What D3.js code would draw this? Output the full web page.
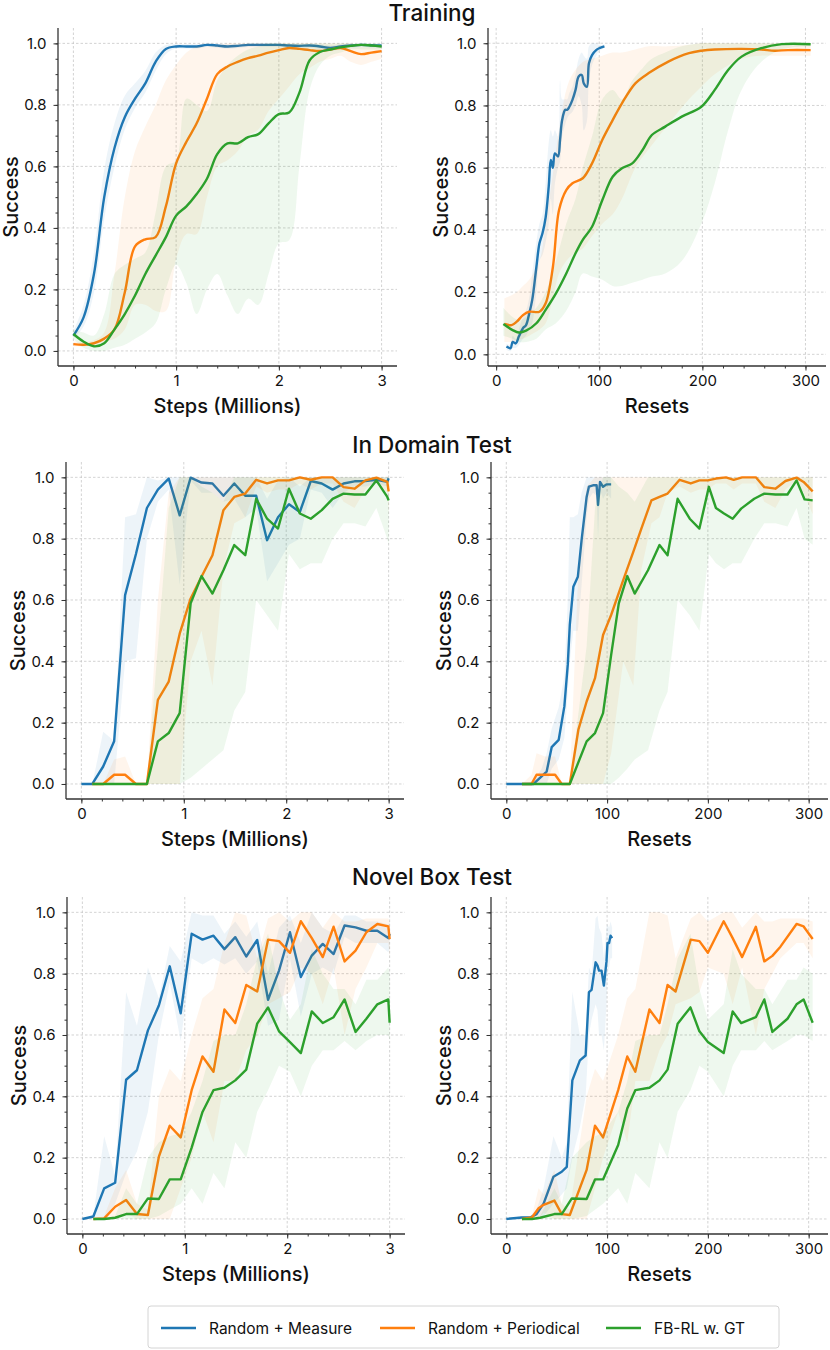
<!DOCTYPE html>
<html>
<head>
<meta charset="utf-8">
<script src="https://cdn.jsdelivr.net/npm/d3@7"></script>
<style>
  html, body { margin: 0; padding: 0; background: #fff; }
  svg { display: block; font-family: Inter, "Noto Sans", sans-serif; }
</style>
</head>
<body>
<svg id="chart" width="830" height="1350"></svg>
<script>
// ---------------- DATA ----------------
const seriesNames = ["Random + Measure", "Random + Periodical", "FB-RL w. GT"];
const seriesColors = ["#1f77b4", "#ff7f0e", "#2ca02c"];
const rowTitles = ["Training", "In Domain Test", "Novel Box Test"];
const stepsTicks = [0, 1, 2, 3];
const resetTicks = [0, 100, 200, 300];
const yTicks = [0, 0.2, 0.4, 0.6, 0.8, 1.0];

// Training vs steps (smoothed curves)
const trainStepsX = [0,0.1,0.2,0.3,0.4,0.5,0.6,0.7,0.8,0.9,1.0,1.1,1.2,1.3,1.4,1.5,1.6,1.7,1.8,1.9,2.0,2.1,2.2,2.3,2.4,2.5,2.6,2.7,2.8,2.9,3.0];
const trainStepsBlue   = [0.05,0.11,0.25,0.5,0.66,0.76,0.82,0.87,0.94,0.982,0.99,0.99,0.99,0.995,0.993,0.99,0.992,0.995,0.995,0.995,0.995,0.993,0.992,0.993,0.99,0.985,0.99,0.993,0.995,0.994,0.993];
const trainStepsBlueLo = [0.04,0.08,0.19,0.43,0.6,0.72,0.79,0.84,0.91,0.965,0.983,0.983,0.983,0.988,0.986,0.983,0.985,0.988,0.988,0.988,0.988,0.986,0.985,0.986,0.982,0.975,0.982,0.986,0.988,0.987,0.986];
const trainStepsBlueHi = [0.065,0.15,0.32,0.59,0.74,0.83,0.87,0.91,0.97,0.995,0.997,0.997,0.997,0.999,0.998,0.997,0.998,0.999,0.999,0.999,0.999,0.998,0.998,0.998,0.997,0.993,0.997,0.998,0.999,0.999,0.998];
const trainStepsOrange   = [0.022,0.02,0.025,0.04,0.07,0.19,0.34,0.363,0.37,0.47,0.61,0.68,0.74,0.82,0.9,0.925,0.94,0.952,0.96,0.97,0.978,0.985,0.982,0.978,0.975,0.98,0.985,0.975,0.965,0.97,0.975];
const trainStepsOrangeLo = [0.015,0.015,0.02,0.03,0.04,0.07,0.15,0.15,0.13,0.13,0.3,0.38,0.38,0.5,0.6,0.62,0.65,0.7,0.72,0.78,0.82,0.86,0.9,0.92,0.94,0.95,0.96,0.94,0.93,0.94,0.95];
const trainStepsOrangeHi = [0.03,0.03,0.035,0.06,0.25,0.5,0.65,0.73,0.8,0.88,0.93,0.97,0.99,0.99,0.995,1,1,1,1,1,1,1,1,1,1,1,1,1,0.99,0.99,0.99];
const trainStepsGreen   = [0.055,0.03,0.015,0.025,0.07,0.12,0.18,0.25,0.31,0.37,0.44,0.47,0.51,0.56,0.64,0.675,0.675,0.695,0.705,0.74,0.77,0.775,0.84,0.945,0.972,0.98,0.987,0.992,0.995,0.993,0.99];
const trainStepsGreenLo = [0.04,0.01,0.0,0.0,0.01,0.02,0.04,0.06,0.09,0.2,0.28,0.22,0.12,0.2,0.25,0.18,0.12,0.17,0.15,0.25,0.35,0.36,0.6,0.85,0.93,0.96,0.97,0.98,0.98,0.98,0.98];
const trainStepsGreenHi = [0.07,0.06,0.05,0.12,0.25,0.28,0.3,0.32,0.45,0.6,0.62,0.82,0.8,0.78,0.88,0.93,0.96,0.98,0.99,1,1,1,1,1,1,1,1,1,1,1,1];

// Training vs resets
const trainResetsBlueX  = [10,14,16,19,22,26,29,32,35,39,42,45,48,51,53,55,57,60,62,64,67,69,71,74,77,80,83,85,88,90,93,97,100,105];
const trainResetsBlue   = [0.025,0.02,0.04,0.035,0.057,0.084,0.094,0.13,0.175,0.28,0.357,0.39,0.44,0.54,0.625,0.6,0.646,0.636,0.69,0.753,0.786,0.786,0.796,0.818,0.85,0.893,0.898,0.871,0.86,0.936,0.962,0.978,0.984,0.99];
const trainResetsBlueLo = [0.015,0.01,0.02,0.02,0.03,0.05,0.06,0.08,0.1,0.2,0.3,0.32,0.36,0.42,0.5,0.45,0.55,0.6,0.62,0.7,0.74,0.76,0.77,0.78,0.8,0.83,0.8,0.72,0.75,0.88,0.93,0.96,0.975,0.985];
const trainResetsBlueHi = [0.035,0.03,0.06,0.05,0.08,0.12,0.14,0.18,0.26,0.36,0.42,0.45,0.55,0.68,0.72,0.7,0.72,0.7,0.88,0.82,0.82,0.82,0.84,0.86,0.9,0.95,0.97,0.96,0.95,0.99,1,1,0.995,0.995];
const trainResetsOrangeX  = [8,15,20,26,32,42,48,55,61,68,74,84,93,103,113,122,135,148,167,187,199,212,238,257,270,283,305];
const trainResetsOrange   = [0.0975,0.094,0.105,0.126,0.137,0.137,0.164,0.28,0.464,0.528,0.55,0.566,0.614,0.69,0.753,0.807,0.871,0.904,0.941,0.968,0.976,0.98,0.982,0.98,0.976,0.978,0.978];
const trainResetsOrangeLo = [0.04,0.04,0.045,0.05,0.06,0.08,0.1,0.18,0.26,0.3,0.32,0.34,0.38,0.42,0.45,0.5,0.6,0.66,0.74,0.82,0.86,0.9,0.95,0.96,0.96,0.96,0.96];
const trainResetsOrangeHi = [0.18,0.19,0.2,0.22,0.24,0.3,0.42,0.58,0.72,0.85,0.9,0.94,0.95,0.96,0.97,0.97,0.98,0.99,0.99,0.995,1,1,1,1,1,1,1];
const trainResetsGreenX  = [7,16,22,29,39,48,58,68,77,84,93,103,113,122,132,142,151,164,180,199,212,225,238,257,277,305];
const trainResetsGreen   = [0.0975,0.078,0.07,0.076,0.1,0.143,0.196,0.26,0.325,0.368,0.41,0.496,0.571,0.598,0.614,0.657,0.705,0.732,0.764,0.796,0.85,0.914,0.957,0.984,0.997,0.997];
const trainResetsGreenLo = [0.06,0.05,0.04,0.04,0.05,0.08,0.1,0.14,0.2,0.26,0.25,0.24,0.22,0.22,0.23,0.24,0.25,0.26,0.3,0.42,0.55,0.72,0.85,0.94,0.98,0.99];
const trainResetsGreenHi = [0.15,0.12,0.11,0.12,0.15,0.2,0.3,0.42,0.5,0.6,0.7,0.82,0.85,0.82,0.88,0.92,0.95,0.97,0.99,1,1,1,1,1,1,1];

// Evaluation step grid (millions)
const evalSteps = [0,0.107,0.213,0.32,0.427,0.533,0.64,0.747,0.853,0.96,1.067,1.173,1.28,1.387,1.493,1.6,1.707,1.813,1.92,2.027,2.133,2.24,2.347,2.453,2.56,2.667,2.773,2.88,2.987,3.0];
const evalStepsLate = [0.107,0.213,0.32,0.427,0.533,0.64,0.747,0.853,0.96,1.067,1.173,1.28,1.387,1.493,1.6,1.707,1.813,1.92,2.027,2.133,2.24,2.347,2.453,2.56,2.667,2.773,2.88,2.987,3.0];

// In Domain Test vs steps
const domStepsBlue   = [0,0,0.057,0.139,0.616,0.75,0.9,0.96,0.996,0.876,0.999,0.983,0.98,0.94,0.98,0.94,0.94,0.795,0.87,0.912,0.887,0.988,0.98,0.96,0.98,0.987,0.988,0.992,0.985,0.997];
const domStepsBlueLo = [0,0,0,0,0.4,0.41,0.8,0.92,0.96,0.65,0.99,0.95,0.95,0.92,0.93,0.87,0.9,0.66,0.72,0.78,0.8,0.96,0.95,0.9,0.95,0.97,0.97,0.98,0.97,0.99];
const domStepsBlueHi = [0,0,0.17,0.14,0.87,0.88,1,0.99,1,1,1,1,1,1,1,1,1,0.93,0.99,1,0.97,1,1,1,1,1,1,1,1,1];
const domStepsOrange   = [0,0,0.03,0.03,0,0,0.274,0.334,0.49,0.605,0.676,0.746,0.893,0.936,0.947,0.992,0.98,0.99,0.99,1.0,0.992,1,1,0.968,0.963,0.99,0.999,0.985,0.954];
const domStepsOrangeLo = [0,0,0,0,0,0,0,0,0,0.4,0.5,0.32,0.7,0.85,0.87,0.97,0.95,0.96,0.96,0.98,0.96,0.98,0.98,0.92,0.9,0.96,0.99,0.95,0.88];
const domStepsOrangeHi = [0,0,0.08,0.09,0,0,0.6,0.95,1,1,1,1,1,1,1,1,1,1,1,1,1,1,1,1,1,1,1,1,1];
const domStepsGreen   = [0,0,0,0,0,0,0.139,0.166,0.231,0.589,0.678,0.621,0.697,0.779,0.746,0.93,0.865,0.833,0.963,0.882,0.865,0.893,0.93,0.947,0.944,0.944,0.99,0.936,0.925];
const domStepsGreenLo = [0,0,0,0,0,0,0,0,0,0.02,0.05,0.08,0.11,0.24,0.3,0.6,0.55,0.5,0.75,0.7,0.72,0.72,0.8,0.85,0.85,0.84,0.9,0.8,0.78];
const domStepsGreenHi = [0,0,0,0,0,0,0.45,0.9,1,1,0.97,0.95,0.92,1,1,1,1,1,1,1,1,1,1,1,1,1,1,1,1];

// In Domain Test vs resets
const domResetsBlueX  = [0,15.5,27,35,40,45,52,57.6,61,63,66.5,71,74.7,79.7,82,86,89.6,91,93,96,99.4,104];
const domResetsBlue   = [0,0,0,0.025,0.04,0.12,0.144,0.253,0.39,0.52,0.643,0.676,0.795,0.936,0.97,0.974,0.974,0.91,0.985,0.969,0.977,0.977];
const domResetsBlueLo = [0,0,0,0,0,0.05,0.08,0.15,0.3,0.4,0.5,0.5,0.65,0.87,0.93,0.95,0.94,0.8,0.96,0.93,0.95,0.93];
const domResetsBlueHi = [0,0,0.01,0.05,0.1,0.18,0.25,0.35,0.6,0.87,0.87,0.88,0.95,1,1,1,1,1,1,1,1,1];
const domResetsOrangeX  = [15.5,25,30,38.5,48.4,55,63,71.5,79.7,88,96,104,116,126,134,144,152,160,172,183,191.6,200,208,218,225.6,234,247.6,256,267,277,288,295,304];
const domResetsOrange   = [0,0,0.03,0.03,0.03,0,0,0.177,0.269,0.345,0.486,0.551,0.665,0.757,0.833,0.925,0.936,0.947,0.992,0.98,0.99,0.99,0.996,1,0.992,1,1,0.968,0.963,0.988,0.999,0.985,0.954];
const domResetsOrangeLo = [0,0,0,0,0,0,0,0,0,0,0,0.1,0.4,0.32,0.7,0.85,0.87,0.95,0.97,0.95,0.96,0.96,0.98,0.98,0.96,0.98,0.98,0.92,0.9,0.96,0.99,0.95,0.88];
const domResetsOrangeHi = [0,0.03,0.1,0.09,0.09,0,0,0.7,0.97,1,1,1,1,1,1,1,1,1,1,1,1,1,1,1,1,1,1,1,1,1,1,1,1];
const domResetsGreenX  = [15.5,25,35,48,55,63,79.7,88,96,104,111.6,120,127.4,140.6,152,160,170,182,191.6,201,208,216,224.6,233,246,256,267,279,288,296,304];
const domResetsGreen   = [0,0,0,0,0,0,0.139,0.166,0.231,0.42,0.589,0.678,0.621,0.697,0.779,0.746,0.93,0.865,0.833,0.969,0.9,0.882,0.865,0.898,0.93,0.947,0.944,0.944,0.99,0.928,0.925];
const domResetsGreenLo = [0,0,0,0,0,0,0,0,0,0,0.02,0.05,0.08,0.11,0.24,0.3,0.6,0.55,0.5,0.75,0.72,0.7,0.72,0.72,0.8,0.85,0.85,0.84,0.9,0.8,0.78];
const domResetsGreenHi = [0,0,0,0,0,0,0.45,0.9,1,1,0.97,0.95,0.92,1,1,1,1,1,1,1,1,1,1,1,1,1,1,1,1,1,1];

// Novel Box Test vs steps
const novStepsBlue   = [0,0.008,0.1,0.118,0.454,0.485,0.615,0.696,0.824,0.671,0.93,0.911,0.924,0.88,0.919,0.856,0.91,0.715,0.81,0.935,0.789,0.859,0.897,0.864,0.957,0.951,0.94,0.94,0.916,0.93];
const novStepsBlueLo = [0,0,0,0.05,0.15,0.22,0.35,0.6,0.77,0.58,0.85,0.83,0.85,0.83,0.85,0.8,0.84,0.63,0.65,0.85,0.66,0.8,0.82,0.8,0.92,0.9,0.9,0.9,0.87,0.88];
const novStepsBlueHi = [0,0.01,0.27,0.14,0.74,0.63,0.82,0.72,0.89,0.84,1,0.99,0.99,0.93,0.97,0.92,0.97,0.8,0.95,0.99,0.9,1,0.95,0.93,0.99,0.99,0.97,0.97,0.96,0.97];
const novStepsOrange   = [0,0.002,0.04,0.062,0.016,0.013,0.203,0.304,0.266,0.42,0.53,0.48,0.683,0.639,0.763,0.742,0.911,0.906,0.868,0.971,0.916,0.854,0.953,0.84,0.875,0.935,0.962,0.954,0.913];
const novStepsOrangeLo = [0,0,0,0.02,0,0,0,0,0.1,0.2,0.35,0.25,0.45,0.45,0.55,0.6,0.7,0.72,0.74,0.82,0.8,0.7,0.82,0.6,0.75,0.82,0.9,0.9,0.85];
const novStepsOrangeHi = [0,0.01,0.1,0.16,0.05,0.03,0.4,0.49,0.45,0.6,0.72,0.75,0.9,1,0.99,0.85,0.98,1,0.97,1,1,0.95,1,0.97,0.97,0.98,0.98,0.98,0.97];
const novStepsGreen   = [0,0,0.004,0.016,0.016,0.067,0.065,0.129,0.129,0.233,0.349,0.42,0.428,0.452,0.487,0.637,0.69,0.612,0.577,0.541,0.677,0.639,0.658,0.716,0.61,0.653,0.7,0.716,0.64];
const novStepsGreenLo = [0,0,0,0,0,0,0.01,0.03,0.05,0.1,0.05,0.15,0.1,0.25,0.2,0.35,0.42,0.5,0.48,0.4,0.5,0.55,0.55,0.58,0.55,0.58,0.6,0.6,0.58];
const novStepsGreenHi = [0,0,0.01,0.1,0.05,0.2,0.25,0.27,0.28,0.35,0.45,0.58,0.6,0.6,0.7,0.85,0.93,0.75,0.65,0.7,0.88,0.8,0.75,0.75,0.7,0.78,0.78,0.82,0.8];

// Novel Box Test vs resets
const novResetsBlueX  = [0,15.5,23.7,30,37,46.8,55,60,65.5,73,78.7,82,84.6,88.6,90.5,92,94.5,96.8,99.4,100.4,102,103.4,105];
const novResetsBlue   = [0,0.005,0.005,0.016,0.05,0.138,0.154,0.17,0.452,0.517,0.533,0.74,0.747,0.837,0.826,0.81,0.81,0.761,0.84,0.9,0.9,0.924,0.916];
const novResetsBlueLo = [0,0,0,0,0.01,0.05,0.08,0.1,0.2,0.3,0.4,0.6,0.65,0.7,0.68,0.6,0.6,0.55,0.7,0.8,0.82,0.85,0.85];
const novResetsBlueHi = [0,0.01,0.01,0.03,0.1,0.27,0.2,0.25,0.74,0.6,0.6,0.82,0.8,0.98,0.99,0.95,0.93,0.85,0.95,0.96,0.95,0.97,0.95];
const novResetsOrangeX  = [15.5,25.4,32,37,47.7,55,63,79.7,88,96,111,120,128,142,152,160,168,183,191.6,200,215.7,224.6,234,247.6,256,264,272,288,295,304];
const novResetsOrange   = [0,0.005,0.035,0.046,0.06,0.016,0.013,0.16,0.304,0.266,0.42,0.53,0.48,0.683,0.639,0.763,0.742,0.911,0.906,0.868,0.971,0.916,0.854,0.953,0.84,0.858,0.888,0.962,0.954,0.913];
const novResetsOrangeLo = [0,0,0,0.02,0,0,0,0,0.1,0.2,0.35,0.25,0.45,0.45,0.55,0.6,0.7,0.72,0.74,0.82,0.8,0.7,0.82,0.6,0.75,0.8,0.85,0.9,0.9,0.85];
const novResetsOrangeHi = [0,0.01,0.1,0.08,0.16,0.05,0.03,0.4,0.49,0.45,0.6,0.72,0.75,1,1,0.99,0.85,0.98,1,0.97,1,1,0.95,1,0.97,0.97,0.98,0.98,0.98,0.97];
const novResetsGreenX  = [15.5,25.4,33.6,47.7,55,65,79.7,88,96,111,120,128,142,152,160,170,182.7,191.6,200,215.7,224.6,233,247.6,256,264,279,288,295,304];
const novResetsGreen   = [0,0,0.004,0.016,0.016,0.067,0.065,0.129,0.129,0.241,0.36,0.42,0.428,0.452,0.487,0.637,0.69,0.612,0.577,0.541,0.677,0.639,0.658,0.716,0.61,0.653,0.7,0.716,0.64];
const novResetsGreenLo = [0,0,0,0,0,0,0.01,0.03,0.05,0.1,0.05,0.15,0.1,0.25,0.2,0.35,0.42,0.5,0.48,0.4,0.5,0.55,0.55,0.58,0.55,0.58,0.6,0.6,0.58];
const novResetsGreenHi = [0,0,0.01,0.1,0.05,0.2,0.25,0.27,0.28,0.35,0.45,0.58,0.6,0.6,0.7,0.85,0.93,0.75,0.65,0.7,0.88,0.8,0.75,0.75,0.7,0.78,0.78,0.82,0.8];

// ---------------- LAYOUT ----------------
function S(x, y, lo, hi) { return {x, y, lo, hi}; }
const panels = [
  { box:[58,397,28,366], xDom:[-0.15,3.15], yDom:[-0.049,1.05], xTicks:stepsTicks, minor:0.2, xLabel:"Steps (Millions)", smooth:true, ylabX:18,
    series:[S(trainStepsX,trainStepsBlue,trainStepsBlueLo,trainStepsBlueHi), S(trainStepsX,trainStepsOrange,trainStepsOrangeLo,trainStepsOrangeHi), S(trainStepsX,trainStepsGreen,trainStepsGreenLo,trainStepsGreenHi)] },
  { box:[488,826,28,366], xDom:[-7.9,319.9], yDom:[-0.0375,1.049], xTicks:resetTicks, minor:20, xLabel:"Resets", smooth:true, ylabX:448,
    series:[S(trainResetsBlueX,trainResetsBlue,trainResetsBlueLo,trainResetsBlueHi), S(trainResetsOrangeX,trainResetsOrange,trainResetsOrangeLo,trainResetsOrangeHi), S(trainResetsGreenX,trainResetsGreen,trainResetsGreenLo,trainResetsGreenHi)] },
  { box:[66,404,462,799], xDom:[-0.15,3.15], yDom:[-0.049,1.05], xTicks:stepsTicks, minor:0.2, xLabel:"Steps (Millions)", smooth:false, ylabX:25,
    series:[S(evalSteps,domStepsBlue,domStepsBlueLo,domStepsBlueHi), S(evalStepsLate,domStepsOrange,domStepsOrangeLo,domStepsOrangeHi), S(evalStepsLate,domStepsGreen,domStepsGreenLo,domStepsGreenHi)] },
  { box:[491,828,462,799], xDom:[-15.2,319.2], yDom:[-0.049,1.05], xTicks:resetTicks, minor:20, xLabel:"Resets", smooth:false, ylabX:451,
    series:[S(domResetsBlueX,domResetsBlue,domResetsBlueLo,domResetsBlueHi), S(domResetsOrangeX,domResetsOrange,domResetsOrangeLo,domResetsOrangeHi), S(domResetsGreenX,domResetsGreen,domResetsGreenLo,domResetsGreenHi)] },
  { box:[67,405,897,1234], xDom:[-0.15,3.15], yDom:[-0.049,1.05], xTicks:stepsTicks, minor:0.2, xLabel:"Steps (Millions)", smooth:false, ylabX:26,
    series:[S(evalSteps,novStepsBlue,novStepsBlueLo,novStepsBlueHi), S(evalStepsLate,novStepsOrange,novStepsOrangeLo,novStepsOrangeHi), S(evalStepsLate,novStepsGreen,novStepsGreenLo,novStepsGreenHi)] },
  { box:[491,828,897,1234], xDom:[-15.2,319.2], yDom:[-0.049,1.05], xTicks:resetTicks, minor:20, xLabel:"Resets", smooth:false, ylabX:451,
    series:[S(novResetsBlueX,novResetsBlue,novResetsBlueLo,novResetsBlueHi), S(novResetsOrangeX,novResetsOrange,novResetsOrangeLo,novResetsOrangeHi), S(novResetsGreenX,novResetsGreen,novResetsGreenLo,novResetsGreenHi)] },
];
const titleY = [21, 453, 885];

const svg = d3.select("#chart");
const textColor = "#111";
const spineColor = "#333";

rowTitles.forEach((t, i) => {
  svg.append("text").attr("x", 432).attr("y", titleY[i]).attr("text-anchor", "middle")
    .attr("font-size", 22.5).attr("font-weight", 500).attr("fill", textColor).text(t);
});

panels.forEach(p => {
  const [L, R, T, B] = p.box;
  const x = d3.scaleLinear().domain(p.xDom).range([L, R]);
  const y = d3.scaleLinear().domain(p.yDom).range([B, T]);
  const g = svg.append("g");

  // grid
  const grid = g.append("g").attr("stroke", "#c8c8c8").attr("stroke-width", 0.8).attr("stroke-dasharray", "2.5,2");
  p.xTicks.forEach(t => grid.append("line").attr("x1", x(t)).attr("x2", x(t)).attr("y1", T).attr("y2", B));
  yTicks.forEach(t => grid.append("line").attr("x1", L).attr("x2", R).attr("y1", y(t)).attr("y2", y(t)));

  // series
  p.series.forEach((s, k) => {
    const pts = s.x.map((xv, i) => ({x: xv, y: s.y[i], lo: s.lo[i], hi: s.hi[i]}));
    const curve = p.smooth ? d3.curveCatmullRom.alpha(0.5) : d3.curveLinear;
    const area = d3.area().x(d => x(d.x)).y0(d => y(d.lo)).y1(d => y(d.hi)).curve(curve);
    const line = d3.line().x(d => x(d.x)).y(d => y(d.y)).curve(curve);
    g.append("path").attr("d", area(pts)).attr("fill", seriesColors[k]).attr("fill-opacity", 0.08).attr("stroke", "none");
    g.append("path").attr("d", line(pts)).attr("fill", "none").attr("stroke", seriesColors[k])
      .attr("stroke-width", 2.4).attr("stroke-linejoin", "round").attr("stroke-linecap", "butt");
  });

  // axes
  const minorX = d3.range(Math.ceil(p.xDom[0] / p.minor) * p.minor, p.xDom[1], p.minor);
  const minorY = d3.range(0, 1.05, 0.05);
  const xMinor = d3.axisBottom(x).tickValues(minorX).tickSize(2.5).tickFormat("");
  const yMinor = d3.axisLeft(y).tickValues(minorY).tickSize(2.5).tickFormat("");
  const xAxis = d3.axisBottom(x).tickValues(p.xTicks).tickSize(4.5).tickPadding(5).tickFormat(d3.format("d"));
  const yAxis = d3.axisLeft(y).tickValues(yTicks).tickSize(4.5).tickPadding(7).tickFormat(d3.format(".1f"));

  const styleAxis = sel => {
    sel.select(".domain").remove();
    sel.selectAll("line").attr("stroke", spineColor).attr("stroke-width", 1);
    sel.selectAll("text").attr("fill", textColor).attr("font-size", 15).attr("font-family", "Inter, 'Noto Sans', sans-serif");
  };
  g.append("g").attr("transform", `translate(0,${B})`).call(xMinor).call(styleAxis);
  g.append("g").attr("transform", `translate(${L},0)`).call(yMinor).call(styleAxis);
  g.append("g").attr("transform", `translate(0,${B})`).call(xAxis).call(styleAxis);
  g.append("g").attr("transform", `translate(${L},0)`).call(yAxis).call(styleAxis);

  // spines (left & bottom)
  g.append("line").attr("x1", L).attr("x2", L).attr("y1", T).attr("y2", B).attr("stroke", spineColor).attr("stroke-width", 1.3);
  g.append("line").attr("x1", L).attr("x2", R).attr("y1", B).attr("y2", B).attr("stroke", spineColor).attr("stroke-width", 1.3);

  // labels
  g.append("text").attr("x", (L + R) / 2).attr("y", B + 47).attr("text-anchor", "middle")
    .attr("font-size", 20).attr("font-weight", 500).attr("fill", textColor).text(p.xLabel);
  g.append("text").attr("transform", `translate(${p.ylabX},${(T + B) / 2}) rotate(-90)`).attr("text-anchor", "middle")
    .attr("font-size", 20).attr("font-weight", 500).attr("fill", textColor).text("Success");
});

// legend
const leg = svg.append("g");
leg.append("rect").attr("x", 148).attr("y", 1306).attr("width", 631).attr("height", 42).attr("rx", 3)
  .attr("fill", "#fff").attr("stroke", "#d4d4d4").attr("stroke-width", 1);
const legLineX = [161, 380, 606];
seriesNames.forEach((n, i) => {
  leg.append("line").attr("x1", legLineX[i]).attr("x2", legLineX[i] + 35).attr("y1", 1328).attr("y2", 1328)
    .attr("stroke", seriesColors[i]).attr("stroke-width", 2.4);
  leg.append("text").attr("x", legLineX[i] + 48).attr("y", 1333.5).attr("font-size", 15.5)
    .attr("fill", textColor).text(n);
});
</script>
</body>
</html>
